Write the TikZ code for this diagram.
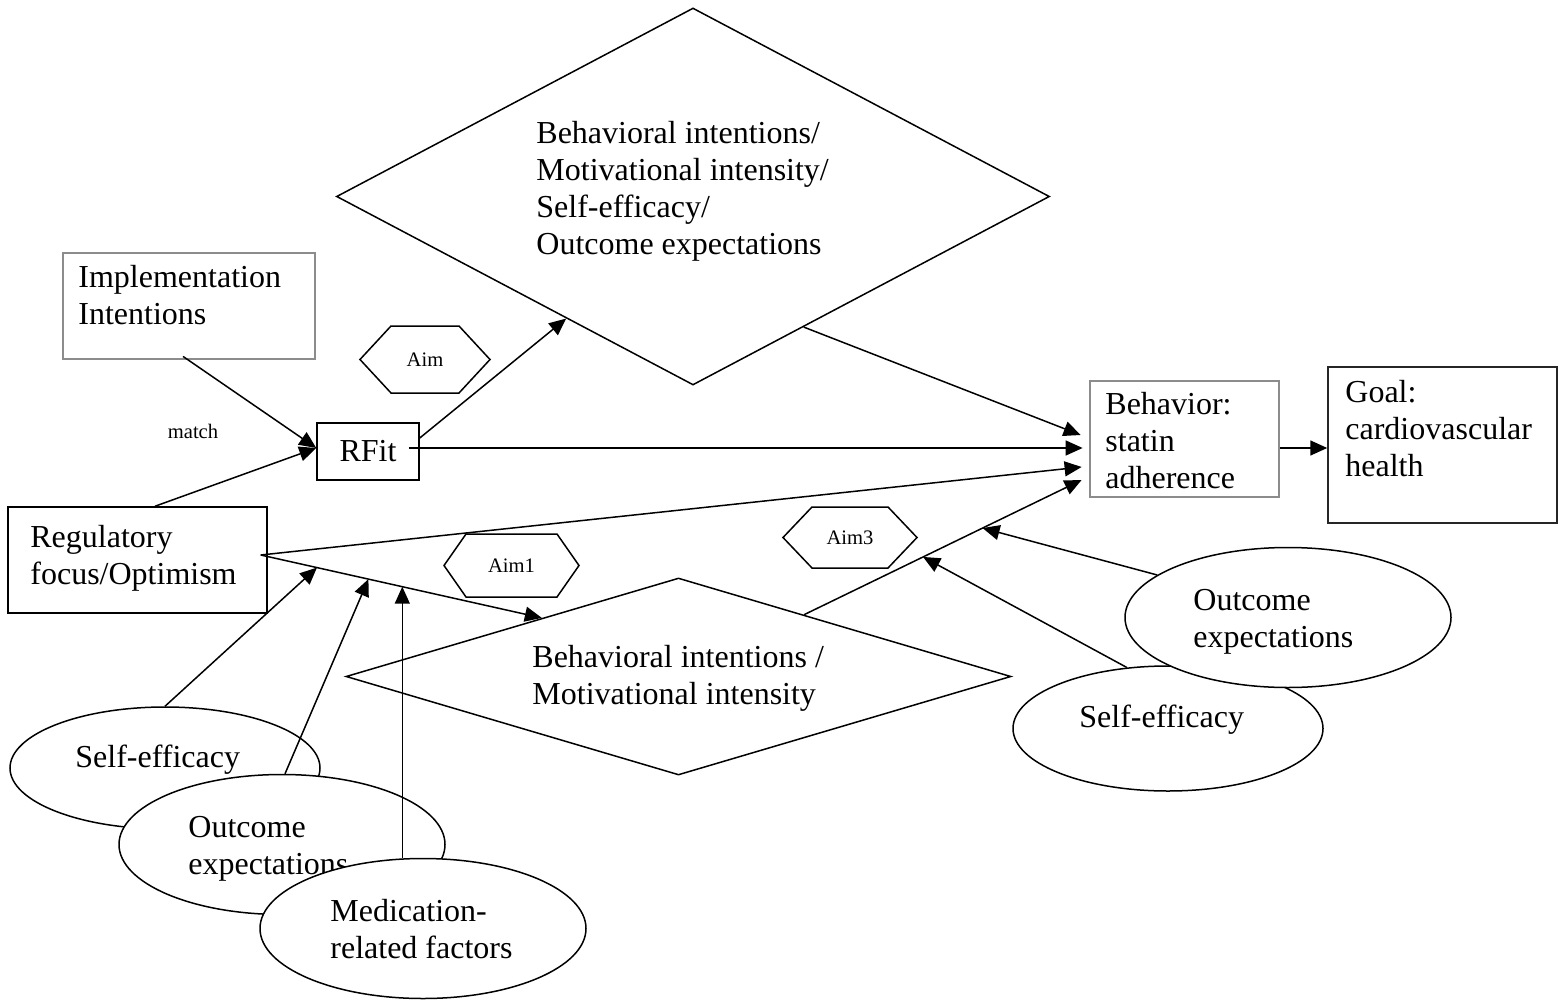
\documentclass[tikz,border=0pt]{standalone}
\usepackage{fontspec}
\setmainfont{Liberation Serif}
\usetikzlibrary{shapes.geometric,arrows.meta,calc}

% hexagonal aim tag: name, x, y, half width, corner inset, half height, label
\newcommand\aimtag[7]{%
  \node[small] (#1) at (#2,#3) {#7};
  \draw[thin line] (#2,#3) ++(-#4,0) -- ++(#5,-#6) -- ++({2*#4-2*#5},0)
    -- ++(#5,#6) -- ++(-#5,#6) -- ++({-2*#4+2*#5},0) -- cycle;
}

\begin{document}
\begin{tikzpicture}[x=0.5pt,y=-0.5pt,
  thin line/.style={line width=0.75pt},
  arr/.style={line width=0.75pt,-{Triangle[length=8.5pt,width=7.5pt]}},
  big/.style={font=\fontsize{16}{18.5}\selectfont,inner sep=0pt,align=left},
  small/.style={font=\fontsize{10.3}{12}\selectfont,inner sep=0pt},
  box/.style={rectangle,draw,line width=0.75pt,inner sep=0pt},
  greybox/.style={rectangle,draw=black!45,line width=1.4pt,inner sep=0pt},
  diam/.style={diamond,draw,line width=0.75pt,inner sep=0pt},
  oval/.style={ellipse,draw,fill=white,line width=0.75pt,inner sep=0pt},
]
\useasboundingbox (0,0) rectangle (1567,1000);

% ---- rectangles ----
\node[greybox,minimum width=126pt,minimum height=53pt] (impl) at (189,306) {};
\node[big,anchor=west] (impltext) at (78,299) {\strut Implementation\\Intentions\strut};

\node[box,minimum width=51pt,minimum height=28.5pt,big] (rfit) at (368,451.5) {RFit};

\node[box,minimum width=129.5pt,minimum height=53pt] (reg) at (137.5,560) {};
\node[big,anchor=west] (regtext) at (30,559) {\strut Regulatory\\focus/Optimism\strut};

\node[greybox,minimum width=94.5pt,minimum height=58pt] (beh) at (1184.5,439) {};
\node[big,anchor=west] (behtext) at (1105,444) {\strut Behavior:\\statin\\adherence\strut};

\node[box,draw=black!85,minimum width=114.5pt,minimum height=78pt] (goal) at (1442.5,445) {};
\node[big,anchor=west] (goaltext) at (1345,432) {\strut Goal:\\cardiovascular\\health\strut};

% ---- diamonds ----
\node[diam,minimum width=356.5pt,minimum height=188.5pt] (topd) at (693,196.5) {};
\node[big,anchor=west] (topdtext) at (536,191.5)
  {\strut Behavioral intentions/\\Motivational intensity/\\Self-efficacy/\\Outcome expectations\strut};

\node[diam,minimum width=332.5pt,minimum height=98.5pt] (botd) at (678.5,676.5) {};
\node[big,anchor=west] (botdtext) at (532,679)
  {\strut Behavioral intentions /\\Motivational intensity\strut};

% ---- aim tags ----
\aimtag{aim}{425}{359.5}{65}{31}{33.5}{Aim}
\aimtag{aimone}{511.5}{565.5}{67.5}{22}{31.5}{Aim1}
\aimtag{aimthree}{850}{537.5}{67}{29}{30.5}{Aim3}

\node[small] (match) at (193,431) {match};

% ---- ellipses, left group ----
\node[oval,minimum width=155pt,minimum height=61pt] (lse) at (165,768) {};
\node[big,anchor=west] (lsetext) at (75,760) {\strut Self-efficacy\strut};
\node[oval,minimum width=163pt,minimum height=70pt] (loe) at (282,844.5) {};
\node[big,anchor=west] (loetext) at (188,849) {\strut Outcome\\expectations\strut};
\node[oval,minimum width=163pt,minimum height=70pt] (med) at (423,928.5) {};
\node[big,anchor=west] (medtext) at (330,932.5) {\strut Medication-\\related factors\strut};

% ---- ellipses, right group ----
\node[oval,minimum width=155pt,minimum height=62.5pt] (rse) at (1168,728.5) {};
\node[big,anchor=west] (rsetext) at (1079,720) {\strut Self-efficacy\strut};
\node[oval,minimum width=163pt,minimum height=70pt] (roe) at (1288,617.5) {};
\node[big,anchor=west] (roetext) at (1193,622) {\strut Outcome\\expectations\strut};

% ---- connector ports ----
\coordinate (regout) at ([xshift=-3.5pt,yshift=2.5pt]reg.east);
\coordinate (botdin) at ($(botd.west)!0.59!(botd.north)$);
\coordinate (botdout) at ($(botd.north)!0.377!(botd.east)$);
\coordinate (behin) at ([xshift=-3.5pt,yshift=-20.5pt]beh.west);
\coordinate (setip) at ($(regout)!0.2!(botdin)$);
\coordinate (oetip) at ($(regout)!0.383!(botdin)$);
\coordinate (medtip) at ($(regout)!0.5035!(botdin)$);
\coordinate (roetip) at ($(botdout)!0.643!(behin)$);
\coordinate (rsetip) at ($(botdout)!0.4286!(behin)$);

% ---- connectors ----
\draw[arr] ([xshift=-3pt,yshift=2pt]impl.south) -- ([yshift=1.75pt]rfit.west);
\draw[arr] ([xshift=8.75pt]reg.north) -- ([yshift=1.75pt]rfit.west);
\draw[arr] ([yshift=6.75pt]rfit.east) -- ($(topd.west)!0.645!(topd.south)$);
\draw[arr] ([xshift=-5.5pt,yshift=1.75pt]rfit.east) -- ([xshift=-3pt,yshift=-4.5pt]beh.west);
\draw[arr] ($(topd.south)!0.31!(topd.east)$) -- ([xshift=-4pt,yshift=2pt]beh.west);
\draw[arr] (regout) -- ([xshift=-3.5pt,yshift=-14pt]beh.west);
\draw[arr] (regout) -- (botdin);
\draw[arr] (botdout) -- (behin);
\draw[arr] ([yshift=-4.5pt]beh.east) -- ([yshift=-4.5pt]beh.east -| goal.west);

\draw[arr] (lse.north) -- (setip);
\draw[arr] ([xshift=1.5pt]loe.north) -- (oetip);
\draw[arr] (medtip |- med.north) -- (medtip);

\draw[arr] (roe.162) -- (roetip);
\draw[arr] (rse.124) -- (rsetip);
\end{tikzpicture}
\end{document}
